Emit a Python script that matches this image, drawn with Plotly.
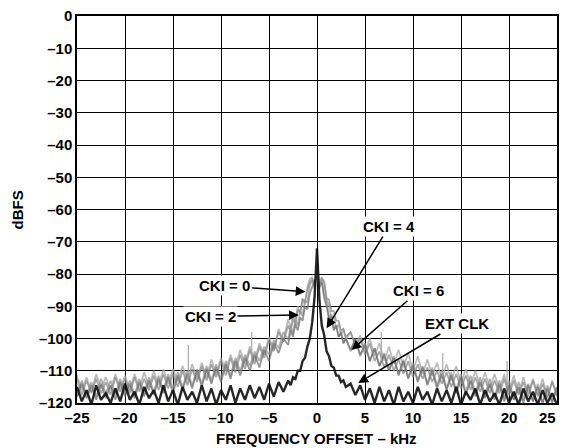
import numpy as np
import plotly.graph_objects as go

# frequency grid (kHz): 0.5 kHz steps in the wings, 0.25 kHz near the carrier
freq = np.concatenate([np.arange(-25, -3.4, 0.5), np.arange(-3, 3.01, 0.25), np.arange(3.5, 25.01, 0.5)])

ext_clk = [-115, -119.5, -116, -120.5, -114.5, -119, -117, -120, -115.5, -119.5, -114,
           -119, -116.5, -120.5, -115, -118.5, -116, -120, -114.5, -119.5, -116,
           -120.5, -115, -119, -116.5, -120, -114.5, -119.5, -115.5, -120.5, -116,
           -119, -114.5, -120, -115.5, -119, -114.5, -118.5, -115, -119, -114, -118, -113.5, -116.5,
           -113, -114.5, -112, -112.5, -110, -110, -107, -106, -102.5, -100, -95, -87, -72,
           -88, -96, -99, -104, -105.5, -108.5, -109, -111.5, -111.5, -113.5, -113, -115,
           -114, -117.5, -114.5, -119, -115.5, -120, -115, -119.5, -116, -120.5, -115,
           -119.5, -116.5, -120, -115, -119, -116.5, -120.5, -115.5, -119.5, -116,
           -120, -115, -120.5, -116.5, -119, -115.5, -120.5, -116, -119.5, -117,
           -120.5, -115.5, -120, -116.5, -120.5, -115.5, -119.5, -116.5, -120.5, -116, -120, -117, -120.5]

cki0 = [-112.5, -117.5, -113, -117, -112.5, -117, -113.5, -117.5, -112, -116.5, -112.5,
        -117, -112, -116.5, -112.5, -116, -111.5, -116, -111, -115.5, -111,
        -115, -110, -114.5, -109.5, -113.5, -108.5, -113, -108, -112, -107,
        -111.5, -106, -110.5, -105, -109.5, -103.5, -108, -102.5, -106, -100.5, -104, -98, -101,
        -96, -98, -94, -95.5, -91, -92, -88, -88.5, -85, -82.5, -81.5, -83.5, -80,
        -83, -81.5, -82.5, -87.5, -88, -91.5, -91.5, -94.5, -94.5, -97.5, -97, -99.5,
        -98, -102.5, -100, -105, -101.5, -107, -104, -109, -105, -110, -106.5,
        -111, -107, -112, -108, -112.5, -109, -113.5, -110, -114, -110.5,
        -115, -111, -115.5, -111.5, -116, -112, -116.5, -112.5, -117, -113,
        -117, -112.5, -117.5, -113, -117.5, -113.5, -118, -113, -118, -114, -118.5, -113.5, -118]

cki2 = [-118, -114, -118.5, -114.5, -119, -114, -118.5, -114.5, -119, -113.5, -118,
        -114, -118.5, -113.5, -118, -113, -117.5, -112.5, -117, -112, -117,
        -111.5, -116, -111, -115.5, -110, -115, -109.5, -114, -109, -113.5,
        -108, -112.5, -107, -111.5, -106, -110, -105, -109, -103.5, -107, -101.5, -104.5, -100,
        -102, -97.5, -99.5, -95.5, -97.5, -93.5, -94.5, -90, -91, -86, -84, -82, -81,
        -84, -82.5, -87.5, -90, -94, -93.5, -97.5, -96, -99.5, -98, -101.5, -100,
        -103.5, -100, -105, -102, -107, -103, -108.5, -105, -110, -106, -111.5,
        -107, -112.5, -108.5, -113.5, -109, -114.5, -110, -115.5, -111, -116,
        -111.5, -117, -112, -117.5, -113, -118, -113.5, -118.5, -114, -119,
        -114, -119.5, -114.5, -119, -115, -120, -114.5, -119.5, -115, -120, -115.5, -120, -115]

cki4 = [-111.5, -116, -112, -116.5, -111, -115.5, -112, -116, -111, -115.5, -111.5,
        -116, -111, -115.5, -110.5, -115, -110, -114.5, -109.5, -114, -109.5,
        -113.5, -108.5, -113, -108, -112.5, -107.5, -112, -106.5, -111, -106,
        -110, -105, -109, -103.5, -108, -102.5, -107, -101.5, -105, -99.5, -103.5, -97, -100.5,
        -94, -97, -92.5, -95, -90, -92.5, -87.5, -89.5, -84, -81.5, -81, -83.5, -79,
        -82.5, -81, -82.5, -88, -89.5, -94, -93, -97, -95.5, -99, -97, -100.5,
        -98, -102, -99, -104, -100, -105.5, -101.5, -107, -102.5, -108, -103.5,
        -109, -104.5, -110, -105.5, -111, -106.5, -111.5, -107.5, -112.5, -108,
        -113, -108.5, -114, -109.5, -114.5, -110, -115, -110.5, -115.5, -111,
        -116, -111, -116.5, -111.5, -117, -112, -117, -112.5, -117.5, -112.5, -118, -113, -117.5]

cki6 = [-118, -113, -117.5, -113.5, -118, -112.5, -117, -113, -117.5, -112.5, -117,
        -113, -117.5, -112.5, -117, -112, -116.5, -111.5, -116, -111, -115.5,
        -110.5, -115, -110, -114.5, -109.5, -114, -108.5, -113, -108, -112.5,
        -107, -111.5, -106, -110, -105, -108.5, -104, -107, -102.5, -105, -100.5, -103, -98,
        -100.5, -96, -98.5, -94, -96, -91.5, -93, -88, -89, -83.5, -82, -84.5, -80.5,
        -84.5, -82, -86.5, -88.5, -93.5, -92.5, -97, -96, -99.5, -98.5, -101.5, -100,
        -104, -100.5, -105.5, -101.5, -107, -103, -108.5, -104.5, -110, -105.5, -111,
        -106.5, -112, -107.5, -113, -108.5, -114, -109, -114.5, -110, -115.5,
        -110.5, -116, -111, -116.5, -111.5, -117, -112, -117.5, -112.5, -118,
        -113, -118.5, -113, -119, -113.5, -119, -114, -119.5, -114, -120, -114.5, -119.5, -115]

# spurious tones seen on the grey traces
spur_freq = [-13.4, -6.8, 6.7, 13.1, 19.8]
spur_top = [-102, -98, -98, -104.5, -107]
spur_base = [-113, -108, -107, -112, -115]

fig = go.Figure()

traces = [(cki4, 'rgba(170,170,170,0.8)'), (cki0, 'rgba(135,135,135,0.75)'),
          (cki6, 'rgba(150,150,150,0.75)'), (cki2, 'rgba(110,110,110,0.75)')]
for vals, col in traces:
    fig.add_trace(go.Scatter(x=freq, y=vals, mode='lines', line=dict(color=col, width=1.7), showlegend=False))

sx, sy = [], []
for f, t, b in zip(spur_freq, spur_top, spur_base):
    sx += [f, f, None]
    sy += [b, t, None]
fig.add_trace(go.Scatter(x=sx, y=sy, mode='lines', line=dict(color='rgba(160,160,160,0.9)', width=1.2), showlegend=False))

fig.add_trace(go.Scatter(x=freq, y=ext_clk, mode='lines', line=dict(color='rgba(15,15,15,0.9)', width=2.4), showlegend=False))

# labels with arrows: (text, tip x, tip y, text x, text y)
labels = [('CKI = 0', -1.2, -85.5, -9.6, -83.7),
          ('CKI = 2', -1.9, -92.7, -11.1, -93.2),
          ('CKI = 4', 1.0, -96.8, 7.5, -65.3),
          ('CKI = 6', 3.6, -103.6, 10.6, -85.2),
          ('EXT CLK', 4.3, -113.8, 14.6, -95.5)]
for txt, x0, y0, tx, ty in labels:
    fig.add_annotation(x=x0, y=y0, ax=tx, ay=ty, axref='x', ayref='y', text=txt,
                       showarrow=True, arrowhead=2, arrowsize=1.3, arrowwidth=1.5, arrowcolor='black',
                       bgcolor='white', borderpad=1,
                       font=dict(family='Liberation Sans', size=15, color='black', weight='bold'))

bold = dict(family='Liberation Sans', size=15, color='black', weight='bold')

fig.add_annotation(text='FREQUENCY OFFSET \u2013 kHz', xref='paper', yref='paper', x=0.498, y=-0.093,
                   xanchor='center', yanchor='middle', showarrow=False, font=bold)
fig.add_annotation(text='dBFS', xref='paper', yref='paper', x=-0.123, y=0.5, textangle=-90,
                   xanchor='center', yanchor='middle', showarrow=False, font=bold)

xt = list(range(-25, 26, 5))
yt = list(range(-120, 1, 10))
xt_text = [str(v).replace('-', '\u2013') for v in xt]
# last label sits flush with the right frame, as in the original
fig.add_annotation(text=xt_text[-1], xref='paper', yref='paper', x=1, y=0, yshift=-14,
                   xanchor='right', yanchor='middle', showarrow=False, borderpad=0, font=bold)
xt_text[-1] = ''
fig.update_xaxes(range=[-25, 25], tickvals=xt, ticktext=xt_text,
                 showgrid=True, gridcolor='black', gridwidth=1, zeroline=False, automargin=False,
                 ticklabeloverflow='allow',
                 showline=True, linecolor='black', linewidth=1.5, mirror=True, ticks='', tickfont=bold)
fig.update_yaxes(range=[-120, 0], tickvals=yt, ticktext=[str(v).replace('-', '\u2013') for v in yt],
                 showgrid=True, gridcolor='black', gridwidth=1, zeroline=False, automargin=False,
                 ticklabeloverflow='allow',
                 showline=True, linecolor='black', linewidth=1.5, mirror=True, ticks='', tickfont=bold)
# page has an 8px body margin, so the plot area is offset to land where the reference has it
fig.update_layout(width=568, height=448, margin=dict(l=69, r=19, t=8, b=53),
                  plot_bgcolor='white', paper_bgcolor='white')

fig.write_html("out.html")
